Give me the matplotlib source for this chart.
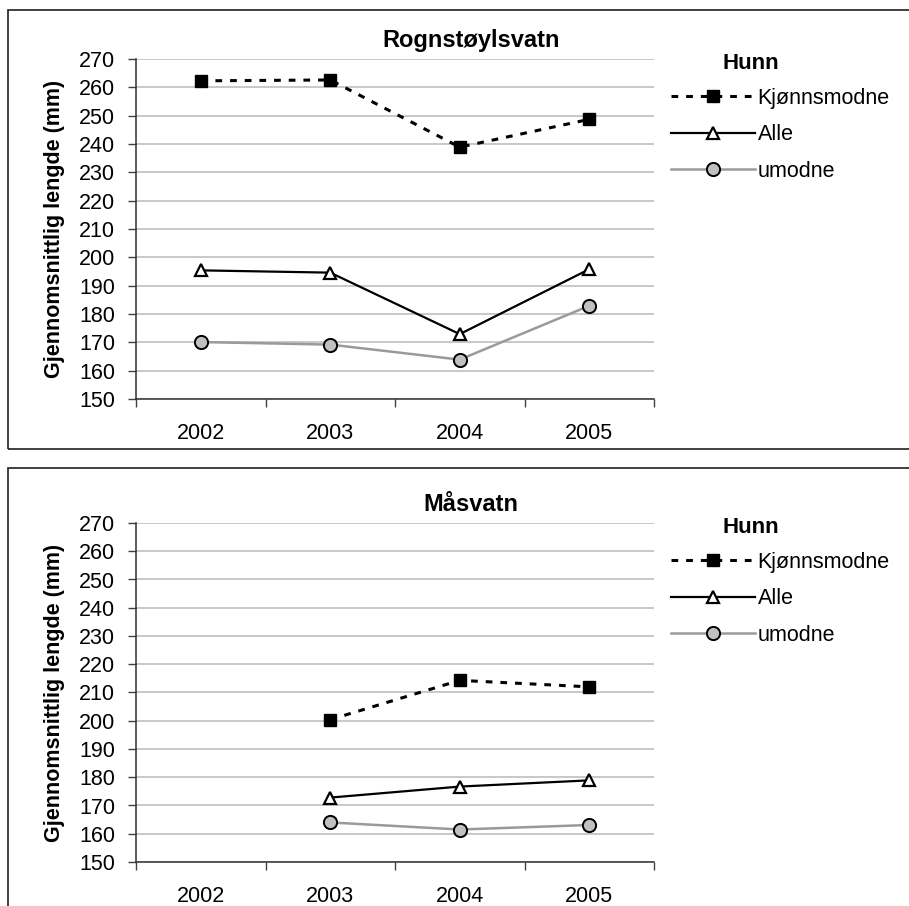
import numpy as np
import matplotlib.pyplot as plt
from matplotlib.patches import Rectangle

plt.rcParams['font.family'] = ['Liberation Sans', 'DejaVu Sans']

years = ['2002', '2003', '2004', '2005']

# Rognstøylsvatn
rogn_kjonn = [262.3, 262.6, 238.9, 248.7]
rogn_alle = [195.4, 194.6, 172.9, 195.8]
rogn_umodne = [170.1, 169.2, 163.9, 182.9]

# Måsvatn (no data 2002)
mas_kjonn = [np.nan, 200.4, 214.3, 212.0]
mas_alle = [np.nan, 172.8, 176.7, 178.9]
mas_umodne = [np.nan, 164.0, 161.5, 163.1]

labels = ['Kjønnsmodne', 'Alle', 'umodne']

W, H = 909, 906
fig = plt.figure(figsize=(W / 100, H / 100), dpi=100)

# panel frames
fig.patches.append(Rectangle((8 / W, 1 - 449 / H), 910 / W, 439 / H, transform=fig.transFigure,
                             fill=False, edgecolor='#202020', lw=1.2))
fig.patches.append(Rectangle((8 / W, 1 - 920 / H), 910 / W, 452 / H, transform=fig.transFigure,
                             fill=False, edgecolor='#202020', lw=1.2))


def panel(top_px, bottom_px, title, kjonn, alle, umodne):
    ax = fig.add_axes([136 / W, 1 - bottom_px / H, 518 / W, (bottom_px - top_px) / H])
    x = np.arange(len(years))
    ax.plot(x, kjonn, color='black', lw=2.2, ls=(0, (2.2, 2.6)), marker='s',
            ms=9, mfc='black', mec='black', label=labels[0])
    ax.plot(x, alle, color='black', lw=1.6, marker='^', ms=8, mfc='white',
            mec='black', mew=1.6, label=labels[1])
    ax.plot(x, umodne, color='#9a9a9a', lw=1.8, marker='o', ms=9.5, mfc='#c0c0c0',
            mec='black', mew=1.4, label=labels[2])

    ax.set_xlim(-0.5, 3.5)
    ax.set_ylim(150, 270)
    ax.set_yticks(np.arange(150, 271, 10))
    ax.set_xticks(x)
    ax.set_xticklabels(years)
    ax.set_xticks(np.arange(-0.5, 3.6, 1), minor=True)
    ax.tick_params(axis='x', which='major', length=0, pad=17, labelsize=15.5)
    ax.tick_params(axis='x', which='minor', length=6, width=1, color='#404040', direction='out')
    ax.tick_params(axis='y', length=6, width=1, color='#404040', direction='out', pad=9, labelsize=15.5)
    ax.yaxis.grid(True, color='#c4c4c4', lw=1.3)
    ax.set_axisbelow(True)
    for s in ['top', 'right']:
        ax.spines[s].set_visible(False)
    for s in ['left', 'bottom']:
        ax.spines[s].set_color('#303030')
        ax.spines[s].set_linewidth(1.1)
    ax.set_ylabel('Gjennomsnittlig lengde (mm)', fontsize=15.5, fontweight='bold', labelpad=10)

    fig.text(471 / W, 1 - (top_px - 12) / H, title, ha='center', va='baseline',
             fontsize=17, fontweight='bold')
    fig.text(751 / W, 1 - (top_px + 10) / H, 'Hunn', ha='center', va='baseline',
             fontsize=16, fontweight='bold')
    ax.legend(loc='upper left', bbox_to_anchor=(671 / W, 1 - (top_px + 29) / H),
              bbox_transform=fig.transFigure, frameon=False, fontsize=15.5,
              handlelength=3.9, handletextpad=0.12, labelspacing=0.72,
              borderpad=0, borderaxespad=0)
    return ax


panel(59, 399, 'Rognstøylsvatn', rogn_kjonn, rogn_alle, rogn_umodne)
panel(523, 862, 'Måsvatn', mas_kjonn, mas_alle, mas_umodne)

fig.savefig('out.png', dpi=100)
